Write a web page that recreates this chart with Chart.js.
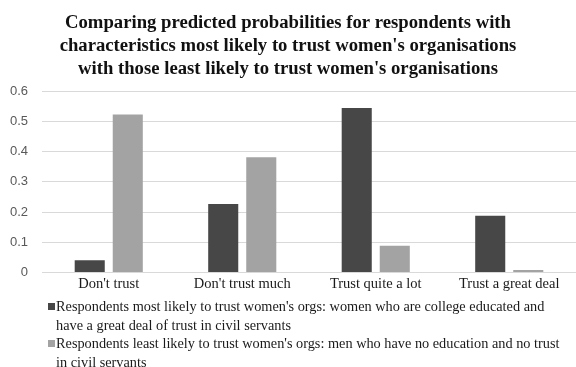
<!DOCTYPE html>
<html>
<head>
<meta charset="utf-8">
<script src="https://cdn.jsdelivr.net/npm/chart.js@4"></script>
<style>
  html, body { margin: 0; padding: 0; background: #fff; }
  #wrap { position: relative; width: 576px; height: 367px; overflow: hidden; }
  #box { position: absolute; left: 0; top: 0; width: 576px; height: 300px; }
  #legend { position: absolute; left: 56px; top: 297px; width: 515px;
    font-family: "Liberation Serif", "Times New Roman", serif; font-size: 14.3px;
    line-height: 18.5px; color: #1a1a1a; }
  .item { position: relative; }
  .swatch { position: absolute; left: -8px; top: 6px; width: 7px; height: 7px; }
</style>
</head>
<body>
<div id="wrap">
  <div id="box"><canvas id="myChart"></canvas></div>
  <div id="legend"></div>
</div>
<script>
const categories = ["Don't trust", "Don't trust much", "Trust quite a lot", "Trust a great deal"];
const mostLikely = [0.041, 0.227, 0.544, 0.188];
const leastLikely = [0.522, 0.381, 0.089, 0.009];
const seriesNames = [
  "Respondents most likely to trust women's orgs: women who are college educated and have a great deal of trust in civil servants",
  "Respondents least likely to trust women's orgs: men who have no education and no trust in civil servants"
];
const titleLines = [
  "Comparing predicted probabilities for respondents with",
  "characteristics most likely to trust women's organisations",
  "with those least likely to trust women's organisations"
];
const seriesColors = ['#474747', '#a3a3a3'];

const ctx = document.getElementById('myChart').getContext('2d');

const myChart = new Chart(ctx, {
  type: 'bar',
  data: {
    labels: categories,
    datasets: [{
      label: seriesNames[0],
      data: mostLikely,
      backgroundColor: seriesColors[0],
      categoryPercentage: 0.57,
      barPercentage: 0.79
    }, {
      label: seriesNames[1],
      data: leastLikely,
      backgroundColor: seriesColors[1],
      categoryPercentage: 0.57,
      barPercentage: 0.79
    }]
  },
  options: {
    responsive: true,
    maintainAspectRatio: false,
    animation: false,
    layout: { padding: { left: 0, right: 0, top: 0, bottom: 4 } },
    plugins: {
      legend: { display: false },
      tooltip: { enabled: false },
      title: {
        display: true,
        text: titleLines,
        color: '#111',
        font: { family: '"Liberation Serif", "Times New Roman", serif', size: 18.7, weight: 'bold', lineHeight: 1.23 },
        padding: { top: 12, bottom: 10 }
      }
    },
    scales: {
      x: {
        grid: { display: false, drawTicks: false, tickLength: 0 },
        border: { display: true, color: '#d9d9d9' },
        ticks: {
          color: '#1a1a1a',
          padding: 3,
          font: { family: '"Liberation Serif", "Times New Roman", serif', size: 14.5 },
          maxRotation: 0
        }
      },
      y: {
        min: 0,
        max: 0.6,
        border: { display: false },
        grid: { color: '#d9d9d9', drawTicks: false },
        afterFit: function(axis) { axis.width = 42; },
        ticks: {
          stepSize: 0.1,
          padding: 14,
          color: '#595959',
          font: { family: '"Liberation Sans", Arial, sans-serif', size: 13 },
          callback: function(v) { return Math.round(v * 10) / 10; }
        }
      }
    }
  }
});

// legend in HTML so long labels can wrap
const legendEl = document.getElementById('legend');
myChart.data.datasets.forEach(function(ds) {
  const item = document.createElement('div');
  item.className = 'item';
  const sw = document.createElement('span');
  sw.className = 'swatch';
  sw.style.background = ds.backgroundColor;
  item.appendChild(sw);
  item.appendChild(document.createTextNode(ds.label));
  legendEl.appendChild(item);
});
</script>
</body>
</html>
